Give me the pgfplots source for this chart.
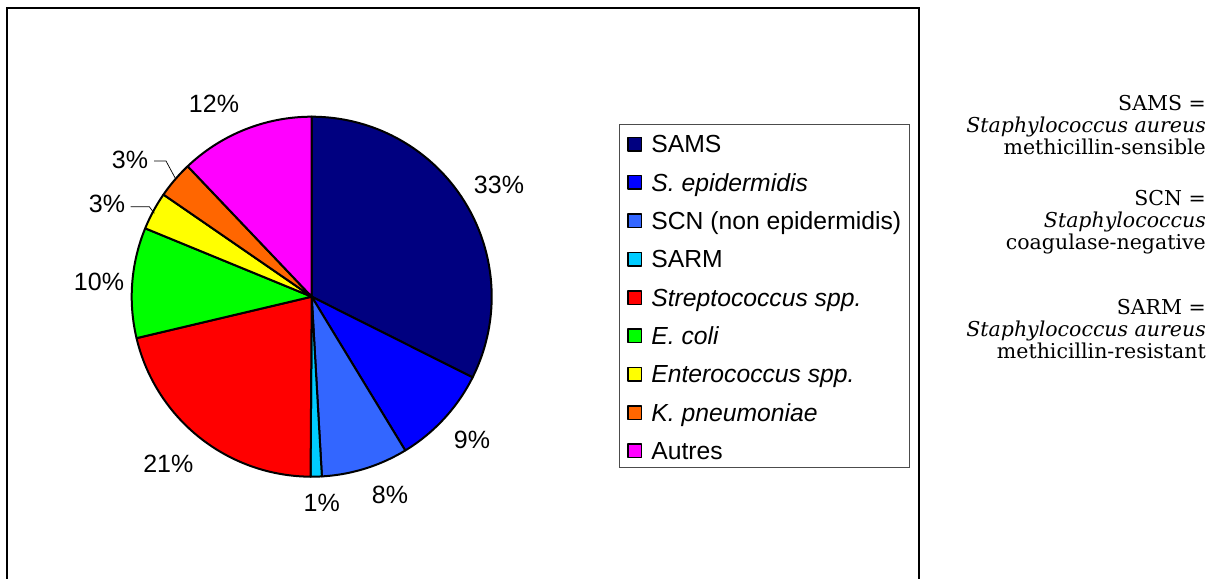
\documentclass[border=0pt]{standalone}
\usepackage{pgfplots}
\pgfplotsset{compat=1.18}
\usepackage{pgfplotstable}
\usepackage{fontspec}
\setmainfont{Liberation Sans}
\newfontfamily\notefont{DejaVu Serif}

\definecolor{samsc}{HTML}{000080}
\definecolor{sepic}{HTML}{0000FF}
\definecolor{scnc}{HTML}{3366FF}
\definecolor{sarmc}{HTML}{00CCFF}
\definecolor{strepc}{HTML}{FF0000}
\definecolor{ecolic}{HTML}{00FF00}
\definecolor{enteroc}{HTML}{FFFF00}
\definecolor{kpnc}{HTML}{FF6600}
\definecolor{autresc}{HTML}{FF00FF}

% share of each category, in per cent
\pgfplotstableread{
value col
32.4 samsc
8.9  sepic
7.8  scnc
1.0  sarmc
21.2 strepc
9.9  ecolic
3.4  enteroc
3.3  kpnc
12.1 autresc
}\piedata

\begin{document}
\begin{tikzpicture}
\begin{axis}[
  width=1218pt, height=579pt, scale only axis,
  xmin=0, xmax=1218, ymin=0, ymax=579,
  hide axis, clip=false,
  legend cell align=left,
  legend style={at={(0.50821,0.78584)}, anchor=north west,
    draw=black!70, line width=0.8pt, fill=white,
    font=\fontsize{24.7}{29}\selectfont,
    inner xsep=8pt, inner ysep=5.5pt,
    row sep=13.35pt, column sep=9pt,
    nodes={inner sep=0pt, text height=23pt, text depth=2pt}},
  legend image code/.code={\draw[#1, line width=1.5pt] (0pt,-8.5pt) rectangle (13.5pt,5pt);},
]
\path (rel axis cs:0,0) rectangle (rel axis cs:1,1);
\def\cx{311.7}\def\cy{282.3}\def\R{180}
\def\cum{0}
\pgfplotsforeachungrouped \i in {0,...,8}{%
  \pgfplotstablegetelem{\i}{value}\of\piedata \let\v\pgfplotsretval
  \pgfplotstablegetelem{\i}{col}\of\piedata \let\c\pgfplotsretval
  \pgfmathsetmacro\a{90-3.6*\cum}%
  \pgfmathsetmacro\b{\a-3.6*\v}%
  \pgfmathsetmacro\cum{\cum+\v}%
  \edef\doslice{\noexpand\addplot[fill=\c, draw=black, line width=2pt, line join=round, domain=\b:\a, samples=90, variable=\noexpand\t] ({\cx+\R*cos(\noexpand\t)},{\cy+\R*sin(\noexpand\t)}) -- (\cx,\cy) -- cycle;}%
  \doslice
}
\legend{SAMS, \textit{S. epidermidis}, SCN (non epidermidis), SARM, \textit{Streptococcus spp.}, \textit{E. coli}, \textit{Enterococcus spp.}, \textit{K. pneumoniae}, Autres}

% percentage labels
\begin{scope}[font=\fontsize{25}{30}\selectfont]
\node at (499,394) {33\%};
\node at (472,139) {9\%};
\node at (390,84) {8\%};
\node at (321.7,75.7) {1\%};
\node at (168.3,115) {21\%};
\node at (99,297) {10\%};
\node at (107,375) {3\%};
\node at (130,419) {3\%};
\node at (214,475) {12\%};
\end{scope}
\draw[line width=0.7pt] (154,418) -- (166,418) -- (175,401.3);
\draw[line width=0.7pt] (130.7,372.3) -- (149.3,372.3) -- (154.3,365.7);

% outer frame
\draw[line width=1.8pt, line join=miter] (7,0) -- (7,571) -- (919,571) -- (919,0);

% notes
\begin{scope}[every node/.style={anchor=north east, align=right, inner sep=0pt, font=\notefont\fontsize{20.5}{22}\selectfont}]
\node at (1206,484) {SAMS =\\\textit{Staphylococcus aureus}\\methicillin-sensible};
\node at (1206,389) {SCN =\\\textit{Staphylococcus}\\coagulase-negative};
\node at (1206,280) {SARM =\\\textit{Staphylococcus aureus}\\methicillin-resistant};
\end{scope}
\end{axis}
\end{tikzpicture}
\end{document}
